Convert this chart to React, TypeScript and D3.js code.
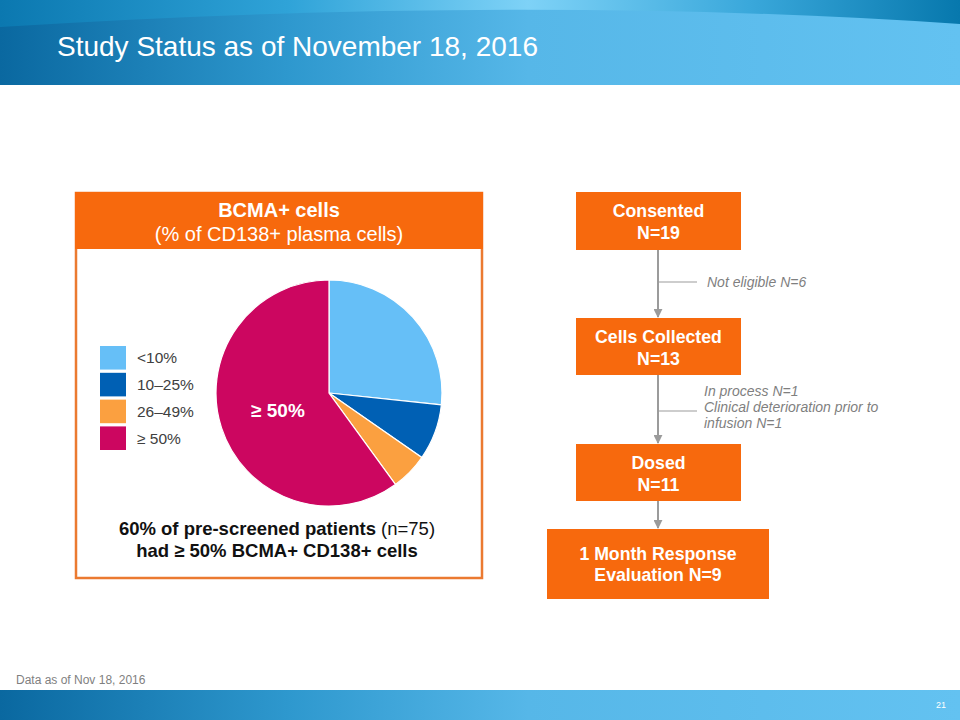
import React from "react";
import * as d3 from "d3";

const categories = ["<10%", "10–25%", "26–49%", "≥ 50%"];
const patientCounts = [20, 6, 4, 45];
const sliceColors = ["#66BFF7", "#0060B4", "#FBA040", "#CC0660"];

const flowTitles = ["Consented", "Cells Collected", "Dosed", "1 Month Response"];
const flowSubtitles = ["N=19", "N=13", "N=11", "Evaluation N=9"];
const dropoutNotes = [["Not eligible N=6"], ["In process N=1", "Clinical deterioration prior to", "infusion N=1"]];

const ORANGE = "#F7690D";
const FONT = "'Liberation Sans', Arial, Helvetica, sans-serif";

export default function App() {
  const cx = 329;
  const cy = 393;
  const r = 113;
  const pie = d3.pie<number>().sort(null).value((d) => d).startAngle(0).endAngle(2 * Math.PI);
  const arcs = pie(patientCounts);
  const arcGen = d3.arc<d3.PieArcDatum<number>>().innerRadius(0).outerRadius(r);
  const centroidArc = d3.arc<d3.PieArcDatum<number>>().innerRadius(0).outerRadius(r * 0.95);

  const boxes = [
    { x: 576, y: 192, w: 165, h: 58 },
    { x: 576, y: 318, w: 165, h: 57 },
    { x: 576, y: 444, w: 165, h: 57 },
    { x: 547, y: 529, w: 222, h: 70 },
  ];
  const ax = 658;
  const gray = "#9B9B9B";

  const headerTopPath = "M0,27 Q520,-6 960,24 L960,85 L0,85 Z";

  const legendY = d3.scaleBand<string>().domain(categories).range([346, 450]).paddingInner(0.12);

  return (
    <svg width={960} height={720} style={{ position: "absolute", left: 0, top: 0, background: "#fff" }} fontFamily={FONT}>
      <defs>
        <linearGradient id="topArc" x1="0" x2="1" y1="0" y2="0">
          <stop offset="0" stopColor="#0B78B0" />
          <stop offset="0.3" stopColor="#2FA3D8" />
          <stop offset="0.55" stopColor="#7ED2F7" />
          <stop offset="0.78" stopColor="#3AA8DB" />
          <stop offset="1" stopColor="#0778AD" />
        </linearGradient>
        <linearGradient id="band" x1="0" x2="1" y1="0" y2="0">
          <stop offset="0" stopColor="#0A68A0" />
          <stop offset="0.3" stopColor="#2E98CE" />
          <stop offset="0.55" stopColor="#56B7E8" />
          <stop offset="1" stopColor="#63C2F1" />
        </linearGradient>
        <marker id="arrow" viewBox="0 0 10 10" refX="9" refY="5" markerWidth="4.5" markerHeight="4.5" orient="auto">
          <path d="M0,0 L10,5 L0,10 Z" fill={gray} />
        </marker>
      </defs>

      {/* header */}
      <rect x={0} y={0} width={960} height={85} fill="url(#topArc)" />
      <path d={headerTopPath} fill="url(#band)" />
      <text x={57} y={56} fontSize={28} fill="#fff">Study Status as of November 18, 2016</text>

      {/* panel */}
      <rect x={76} y={193} width={406} height={385} fill="#fff" stroke="#EB7A30" strokeWidth={2.5} />
      <rect x={75} y={192} width={408} height={57} fill={ORANGE} />
      <text x={279} y={217} textAnchor="middle" fontSize={20} fontWeight="bold" fill="#fff">BCMA+ cells</text>
      <text x={279} y={241} textAnchor="middle" fontSize={20} fill="#fff">(% of CD138+ plasma cells)</text>

      {/* pie */}
      <g transform={`translate(${cx},${cy})`}>
        {arcs.map((a, i) => (
          <path key={i} d={arcGen(a) || ""} fill={sliceColors[i]} stroke="#fff" strokeWidth={1.2} />
        ))}
        {(() => {
          const big = arcs[3];
          const c = centroidArc.centroid(big);
          return (
            <text x={c[0]} y={c[1] + 7} textAnchor="middle" fontSize={19} fontWeight="bold" fill="#fff">
              {categories[3]}
            </text>
          );
        })()}
      </g>

      {/* legend */}
      {categories.map((c, i) => (
        <g key={c}>
          <rect x={100} y={legendY(c)!} width={26} height={legendY.bandwidth()} fill={sliceColors[i]} />
          <text x={137} y={legendY(c)! + legendY.bandwidth() / 2 + 5.5} fontSize={15.5} fill="#404040">{c}</text>
        </g>
      ))}

      {/* caption */}
      <text x={277} y={535} textAnchor="middle" fontSize={18.5} fill="#111">
        <tspan fontWeight="bold">60% of pre-screened patients </tspan>
        <tspan>(n=75)</tspan>
      </text>
      <text x={277} y={557} textAnchor="middle" fontSize={18.5} fontWeight="bold" fill="#111">had ≥ 50% BCMA+ CD138+ cells</text>

      {/* flow */}
      {boxes.map((b, i) => (
        <g key={i}>
          <rect x={b.x} y={b.y} width={b.w} height={b.h} fill={ORANGE} />
          <text x={b.x + b.w / 2} y={i === 3 ? b.y + 31 : b.y + 25} textAnchor="middle" fontSize={17.7} fontWeight="bold" fill="#fff">
            {flowTitles[i]}
          </text>
          <text x={b.x + b.w / 2} y={i === 3 ? b.y + 52 : b.y + 47} textAnchor="middle" fontSize={17.7} fontWeight="bold" fill="#fff">
            {flowSubtitles[i]}
          </text>
        </g>
      ))}
      {boxes.slice(0, 3).map((b, i) => (
        <line key={i} x1={ax} x2={ax} y1={b.y + b.h} y2={boxes[i + 1].y - 1} stroke={gray} strokeWidth={2} markerEnd="url(#arrow)" />
      ))}
      <line x1={ax} x2={697} y1={282} y2={282} stroke={gray} strokeWidth={1.2} />
      <text x={707} y={287} fontSize={14} fontStyle="italic" fill="#7F7F7F">{dropoutNotes[0][0]}</text>
      <line x1={ax} x2={697} y1={411} y2={411} stroke={gray} strokeWidth={1.2} />
      {dropoutNotes[1].map((t, i) => (
        <text key={i} x={704} y={396 + i * 16} fontSize={14} fontStyle="italic" fill="#7F7F7F">{t}</text>
      ))}

      {/* footer */}
      <text x={16} y={684} fontSize={12} fill="#7F7F7F">Data as of Nov 18, 2016</text>
      <rect x={0} y={690} width={960} height={30} fill="url(#band)" />
      <text x={936} y={708} fontSize={9} fill="#fff">21</text>
    </svg>
  );
}
